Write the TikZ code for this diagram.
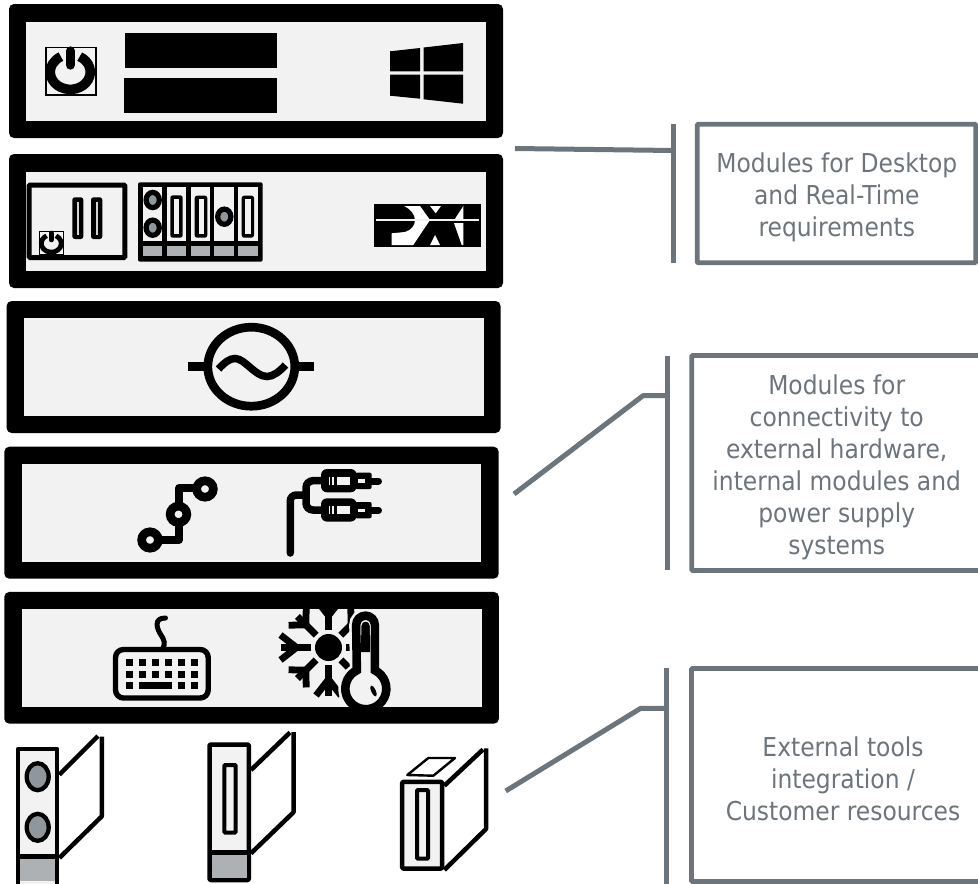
\documentclass[tikz,border=0pt]{standalone}
\usepackage{fontspec}
\setmainfont[FakeStretch=0.9]{DejaVu Sans}
\definecolor{pan}{HTML}{F2F2F2}
\definecolor{lead}{HTML}{6C757B}
\definecolor{foot}{HTML}{ADB1B4}
\definecolor{disc}{HTML}{8F969C}
\tikzset{
  panelouter/.style={fill=black,rounded corners=5pt,inner sep=0pt,outer sep=0pt},
  panelinner/.style={fill=pan,inner sep=0pt,outer sep=0pt},
  textbox/.style={draw=lead,line width=4.7pt,fill=white,rounded corners=1pt,inner sep=0pt,outer sep=0pt},
  textlabel/.style={inner sep=0pt,text=lead,align=center,font=\fontsize{26}{32}\selectfont},
  leadline/.style={draw=lead,line width=5pt},
  modline/.style={draw=black,line width=4.5pt,line join=round},
}
% power symbol: centre, scale
\newcommand{\pwrmark}[3]{%
  \begin{scope}[shift={(#1,#2)},x=#3pt,y=-#3pt,line cap=butt]
    \draw[line width=#3*9.6pt] (0,0) +(-62:20 and 17.4) arc[start angle=-62,end angle=242,x radius=20,y radius=17.4];
    \draw[line width=#3*9.3pt,line cap=round] (0,-21) -- (0,-7);
    \fill (-4.65,-22) rectangle (4.65,-14);
  \end{scope}}
% slotted bar: x0,y0,x1,y1, slit x0,y0,x1,y1
\newcommand{\slotbar}[9][pan]{%
  \fill[rounded corners=2.5pt] (#2,#3) rectangle (#4,#5);
  \fill[#1] (#6,#7) rectangle (#8,#9);}
\begin{document}
\begin{tikzpicture}[x=1pt,y=-1pt]
\useasboundingbox (0,0) rectangle (978,884);
\clip (0,0) rectangle (978,884);
% ---------- panels
\node[panelouter,minimum width=494pt,minimum height=134pt] (p1) at (256,71) {};
\node[panelinner,minimum width=460pt,minimum height=99pt] (p1i) at (256,71.2) {};
\node[panelouter,minimum width=494pt,minimum height=134pt] (p2) at (256,221) {};
\node[panelinner,minimum width=460pt,minimum height=99.3pt] (p2i) at (256,221.3) {};
\node[panelouter,minimum width=494pt,minimum height=132pt] (p3) at (253.6,367) {};
\node[panelinner,minimum width=460pt,minimum height=97.7pt] (p3i) at (253.7,367.2) {};
\node[panelouter,minimum width=494.4pt,minimum height=132pt] (p4) at (251.5,512.7) {};
\node[panelinner,minimum width=459.6pt,minimum height=97.7pt] (p4i) at (251.5,512.8) {};
\node[panelouter,minimum width=494.7pt,minimum height=131.7pt] (p5) at (251.6,657.8) {};
\node[panelinner,minimum width=459.7pt,minimum height=97.7pt] (p5i) at (251.8,657.8) {};
% ---------- panel 1
\draw[line width=1.4pt,fill=pan] (46,47.4) rectangle (96,95);
\pwrmark{70.3}{72}{1}
\fill (124.7,32.7) rectangle (276.7,67.7);
\fill (123.7,78.3) rectangle (276.7,113);
\fill (390,51.3) -- (420,48) -- (420,71.3) -- (390,71.3) -- cycle;
\fill (423.7,47.5) -- (463,43) -- (463,71.3) -- (423.7,71.3) -- cycle;
\fill (390,74.7) -- (420,74.7) -- (420,98.7) -- (390,95.7) -- cycle;
\fill (423.7,74.7) -- (463,74.7) -- (463,103.7) -- (423.7,99.3) -- cycle;
% ---------- panel 2
\draw[line width=5pt,rounded corners=1pt] (29.2,185) rectangle (124.8,257.5);
\slotbar[foot!50!pan]{72.3}{197.3}{83.3}{239}{76.8}{202}{78.8}{235}
\slotbar[foot!50!pan]{91}{197.3}{102.3}{239}{95.6}{202}{97.6}{235}
\draw[line width=1.2pt,fill=pan] (39.3,231.6) rectangle (63.4,254.4);
\pwrmark{51.3}{243.5}{0.5}
% rack
\fill[rounded corners=2pt] (138,182.3) rectangle (262.7,261.7);
\foreach \xa/\xb in {143/162.3,166.7/186,190.7/210,214.3/233.7,238.3/257.7}{
  \fill[pan] (\xa,187.3) rectangle (\xb,241);
  \fill[foot] (\xa,246) rectangle (\xb,256);
}
\foreach \cx/\cy in {152.7/200,152.7/227.7,224.3/216.7}{
  \draw[line width=5.2pt,fill=disc] (\cx,\cy) ellipse[x radius=6.6,y radius=7.6];
}
\slotbar[pan]{170.3}{195.3}{182.7}{237.7}{173.7}{198.7}{179}{234.3}
\slotbar[pan]{194.7}{195.6}{207.3}{237.7}{198.7}{199}{203.7}{234.3}
\slotbar[pan]{241.7}{195.6}{254}{237.7}{244.5}{199}{250.5}{234.3}
% PXI
\fill (373.7,203.7) rectangle (481.3,247.3);
\fill[white] (404.3,206) -- (420,206) -- (430,220) -- (413.3,245) -- (391.7,245) -- (391.7,233.3) -- (405,232) .. controls (411,230) and (415,226) .. (415,220) .. controls (415,214) and (410,209) .. (404.3,206) -- cycle;
\fill[white] (430,206) -- (441,206) -- (435.7,213.3) -- cycle;
\fill[white] (430,245) -- (440,245) -- (435,235) -- cycle;
\fill[white] (463.3,206) -- (463.3,220) -- (454.3,220) -- cycle;
\fill[white] (454,223) -- (463.3,223) -- (463.3,245) -- (461.7,245) -- cycle;
\draw[pan,line width=2pt] (375.7,220) -- (479,220);
% ---------- panel 3
\draw[line width=8.7pt] (251.3,366.7) ellipse[x radius=43.5,y radius=39.5];
\draw[line width=8.7pt] (188.3,366.7) -- (205,366.7);
\draw[line width=8.7pt] (299,366.7) -- (314.3,366.7);
\draw[line width=7.5pt] (218.5,369) .. controls (225,362) and (230,358.5) .. (235,358.5) .. controls (245,358.5) and (255,376.5) .. (267,376.5) .. controls (273,376.5) and (279,372) .. (285.5,365);
% ---------- panel 4
\draw[line width=7.7pt,line join=round] (150,540) -- (179,540) -- (179,488) -- (205,488);
\foreach \cx/\cy in {150/540,178.5/514.3,205/489}{
  \draw[line width=8.7pt,fill=pan] (\cx,\cy) ellipse[x radius=8.35,y radius=8.2];
}
% RCA cables
\draw[line width=7.5pt,line cap=round,rounded corners=6pt] (290.3,553) -- (290.3,495) -- (306,495);
\draw[line width=7.5pt,rounded corners=7pt] (306,495) -- (306,480.7) -- (328,480.7);
\draw[line width=7.5pt,rounded corners=7pt] (306,495) -- (306,510) -- (328,510);
\foreach \dy in {0,29.3}{
  \begin{scope}[yshift=-\dy pt]
    \fill[rounded corners=6pt] (321,469) rectangle (356.7,492.3);
    \fill[rounded corners=2pt] (355,472.7) rectangle (371.7,489);
    \draw[line width=7pt,line cap=round] (370,481) -- (378.5,481);
    \fill[pan] (337.3,476.7) rectangle (350,485);
    \fill[pan] (358,479.3) rectangle (365,482.7);
    \fill[pan] (328.5,476.7) rectangle (329.7,485);
    \fill[pan] (331.5,476.7) rectangle (334,485);
  \end{scope}
}
% ---------- panel 5: keyboard
\draw[line width=5pt,line cap=round] (165.5,618) .. controls (153,618) and (157,629) .. (161,635) .. controls (165,641) and (165,644) .. (163,648);
\draw[line width=5.4pt,rounded corners=8pt,fill=pan] (115.5,649.5) rectangle (208.2,698);
\foreach \ky in {662,674}{
  \foreach \kx in {129.3,142.3,155.3,168.3,181.7,194.7}{
    \fill (\kx-3.5,\ky-3.5) rectangle (\kx+3.5,\ky+3.5);
  }
}
\foreach \kx in {129.3,181.7,194.7}{
  \fill (\kx-3.5,682.2) rectangle (\kx+3.5,689.2);
}
\fill (139,682.2) rectangle (172.3,689.2);
% snowflake and thermometer, held inside the panel
\begin{scope}
  \clip (22,609) rectangle (481.7,706.7);
  \fill (328.5,647.5) circle[radius=13.5];
  \foreach \ang/\len in {0/48,45/44,90/48,135/44,180/48,225/44,270/48,315/44}{
    \begin{scope}[shift={(328.5,647.5)},rotate=\ang]
      \draw[line width=6.8pt] (17.5,0) -- (\len,0);
      \draw[line width=6.8pt] (32,0) -- (\len,12.5);
      \draw[line width=6.8pt] (32,0) -- (\len,-12.5);
    \end{scope}
  }
  \path[fill=pan,draw=pan,line width=14pt] (356.2,625) arc[start angle=180,end angle=360,radius=9.3] -- (374.8,670.3) arc[start angle=-64,end angle=244,radius=20.5] -- cycle;
  \draw[fill=pan,line width=8.6pt] (356.2,625) arc[start angle=180,end angle=360,radius=9.3] -- (374.8,670.3) arc[start angle=-64,end angle=244,radius=20.5] -- cycle;
  \fill (360.8,652) -- (360.8,626) arc[start angle=180,end angle=360,radius=4.7] -- (370.2,652) -- cycle;
  \draw[pan,line width=0.9pt] (361,635) -- (361,625.5) arc[start angle=180,end angle=360,radius=4.6] -- (370.2,635);
  \fill[rotate around={25:(373.5,691)}] (373.5,691) ellipse[x radius=2.2,y radius=6];
\end{scope}
% ---------- modules
% module 1
\draw[modline] (59.3,774.7) -- (98,736) ;
\draw[modline] (101.8,736.7) -- (101.8,816.3) -- (59.3,858);
\draw[modline,fill=pan] (18,749) rectangle (57,890);
\fill[foot] (20,858) rectangle (55,881);
\draw[modline] (18,856.5) -- (57,856.5);
\draw[line width=4.3pt,fill=disc] (37.7,776.7) ellipse[x radius=11,y radius=13.5];
\draw[line width=4.3pt,fill=disc] (37.7,827.3) ellipse[x radius=11,y radius=13.5];
% module 2
\draw[modline] (251,770) -- (290,732.5);
\draw[modline] (293.5,732) -- (293.5,812.3) -- (251,853.3);
\draw[modline,fill=pan,rounded corners=1pt] (209.5,744.5) rectangle (248.8,880);
\fill[foot] (211.7,853) rectangle (246.6,877.8);
\draw[modline] (209.5,852.5) -- (248.8,852.5);
\draw[line width=4pt,fill=pan,rounded corners=1pt] (224.3,765) rectangle (235.7,832.7);
% module 3
\draw[modline] (444.3,785.7) -- (483,749.5);
\draw[modline] (486,748.3) -- (486,829) -- (444.3,870);
\draw[modline,fill=pan,rounded corners=1pt] (402.2,781.9) rectangle (442.1,868.5);
\draw[line width=4pt,fill=pan,rounded corners=1pt] (417,790) rectangle (428,858.7);
\draw[line width=2.4pt,line join=round] (407.3,775) -- (428.3,758) -- (455,758) -- (433.3,775.7) -- cycle;
% ---------- callouts
\coordinate (tA) at (515,148.5);
\coordinate (kA) at (673.3,150.5);
\coordinate (bA1) at (673.3,124);
\coordinate (bA2) at (673.3,263);
\draw[leadline] (tA) -- (kA);
\draw[leadline] (bA1) -- (bA2);
\node[textbox,minimum width=278.5pt,minimum height=138.5pt] (bxA) at (836.5,193.5) {};
\node[textlabel] (lbA) at (836.8,197.5) {Modules for Desktop\\and Real-Time\\requirements};
\coordinate (tB) at (514,494);
\coordinate (jB) at (643,395.7);
\coordinate (kB) at (667.7,395.7);
\coordinate (bB1) at (667.7,355.7);
\coordinate (bB2) at (667.7,570);
\draw[leadline,line join=round] (tB) -- (jB) -- (kB);
\draw[leadline] (bB1) -- (bB2);
\node[textbox,minimum width=290pt,minimum height=215pt] (bxB) at (836.7,463) {};
\node[textlabel] (lbB) at (836.7,467) {Modules for\\connectivity to\\external hardware,\\internal modules and\\power supply\\systems};
\coordinate (tC) at (505.7,791);
\coordinate (jC) at (640.7,708.3);
\coordinate (kC) at (666.7,708.3);
\coordinate (bC1) at (666.7,668);
\coordinate (bC2) at (666.7,884);
\draw[leadline,line join=round] (tC) -- (jC) -- (kC);
\draw[leadline] (bC1) -- (bC2);
\node[textbox,minimum width=303pt,minimum height=213pt] (bxC) at (843,775) {};
\node[textlabel] (lbC) at (843,779) {External tools\\integration /\\Customer resources};
\end{tikzpicture}
\end{document}
